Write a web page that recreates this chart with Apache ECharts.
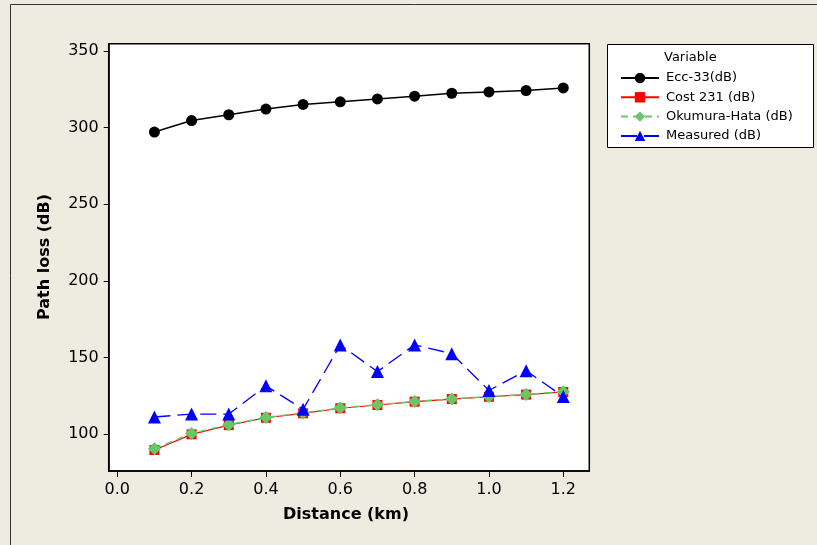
<!DOCTYPE html>
<html><head><meta charset="utf-8">
<script src="https://cdn.jsdelivr.net/npm/echarts@6/dist/echarts.min.js"></script>
<style>html,body{margin:0;padding:0;background:#EEEBE1;}#c{width:817px;height:545px;}</style>
</head><body><div id="c"></div>
<script>
var distance = [0.1,0.2,0.3,0.4,0.5,0.6,0.7,0.8,0.9,1.0,1.1,1.2];
var ecc33 = [297.0,304.5,308.3,312.0,315.0,316.7,318.6,320.4,322.3,323.2,324.1,325.8];
var cost231 = [89.8,100.0,106.0,110.8,113.7,117.0,119.1,121.3,123.0,124.5,125.9,127.6];
var okumura = [90.6,100.6,106.3,111.0,113.9,117.2,119.3,121.4,123.1,124.6,126.0,127.8];
var measured = [111.3,113.2,113.2,131.6,116.3,158.3,140.9,158.3,152.6,128.6,141.5,124.6];
var xTicks = [0.0,0.2,0.4,0.6,0.8,1.0,1.2];
var yTicks = [100,150,200,250,300,350];
var seriesNames = ['Ecc-33(dB)','Cost 231 (dB)','Okumura-Hata (dB)','Measured (dB)'];

function pairs(ys){ return distance.map(function(d,i){ return [d, ys[i]]; }); }
var font = 'DejaVu Sans';
var chart = echarts.init(document.getElementById('c'), null, {renderer:'canvas'});
chart.setOption({
  backgroundColor: '#EEEBE1',
  animation: false,
  textStyle: {fontFamily: font},
  grid: {left: 108.7, top: 43.7, right: 227.7, bottom: 74, show: true, backgroundColor: '#FFFFFF', borderColor: '#000000', borderWidth: 1.5, containLabel: false},
  xAxis: {
    type: 'value', min: -0.023, max: 1.27,
    splitLine: {show: false},
    axisLine: {show: true, onZero: false, lineStyle: {color: '#000', width: 1.5}},
    axisTick: {show: true, length: 6, customValues: xTicks, lineStyle: {color: '#000', width: 1}},
    axisLabel: {customValues: xTicks, color: '#000', fontSize: 16, fontFamily: font, margin: 11, formatter: function(v){ return v.toFixed(1); }}
  },
  yAxis: {
    type: 'value', min: 76.1, max: 354.6,
    splitLine: {show: false},
    axisLine: {show: true, onZero: false, lineStyle: {color: '#000', width: 1.5}},
    axisTick: {show: true, length: 5, customValues: yTicks, lineStyle: {color: '#000', width: 1}},
    axisLabel: {customValues: yTicks, color: '#000', fontSize: 16, fontFamily: font, margin: 10}
  },
  legend: {
    orient: 'vertical', left: 615, top: 66,
    itemWidth: 38, itemHeight: 13, itemGap: 5.3,
    textStyle: {fontSize: 13, fontFamily: font, color: '#000', lineHeight: 14, padding: [0,0,0,2]},
    data: seriesNames
  },
  graphic: [
    {type: 'polyline', shape: {points: [[10.5, 560],[10.5, 4.5],[830, 4.5]]}, style: {stroke: '#333', lineWidth: 1, fill: null}, z: 1},
    {type: 'rect', shape: {x: 607.5, y: 44.5, width: 206, height: 103}, style: {fill: '#FFFFFF', stroke: '#000', lineWidth: 1}, z: 0, zlevel: 0},
    {type: 'text', x: 664, y: 57.7, style: {text: 'Variable', font: '13px "DejaVu Sans"', fill: '#000', textVerticalAlign: 'middle'}, z: 10},
    {type: 'text', x: 45, y: 257, rotation: Math.PI/2, style: {text: 'Path loss (dB)', font: 'bold 16px "DejaVu Sans"', fill: '#000', textAlign: 'center', textVerticalAlign: 'middle'}, z: 10},
    {type: 'text', x: 346, y: 515, style: {text: 'Distance (km)', font: 'bold 16px "DejaVu Sans"', fill: '#000', textAlign: 'center', textVerticalAlign: 'middle'}, z: 10}
  ],
  series: [
    {name: seriesNames[0], type: 'line', data: pairs(ecc33), symbol: 'circle', symbolSize: 11,
     itemStyle: {color: '#000000'}, lineStyle: {color: '#000', width: 1.5}, z: 4},
    {name: seriesNames[1], type: 'line', data: pairs(cost231), symbol: 'rect', symbolSize: 10,
     itemStyle: {color: '#FF0000'}, lineStyle: {color: '#FF0000', width: 1.2}, z: 2},
    {name: seriesNames[2], type: 'line', data: pairs(okumura), symbol: 'diamond', symbolSize: 13,
     itemStyle: {color: '#66C866'}, lineStyle: {color: '#66C866', width: 1.5, type: [7,5]}, z: 3},
    {name: seriesNames[3], type: 'line', data: pairs(measured), symbol: 'triangle', symbolSize: 13,
     itemStyle: {color: '#0000FF'}, lineStyle: {color: '#0000FF', width: 1.3, type: [16,7]}, z: 5}
  ]
});
</script></body></html>
